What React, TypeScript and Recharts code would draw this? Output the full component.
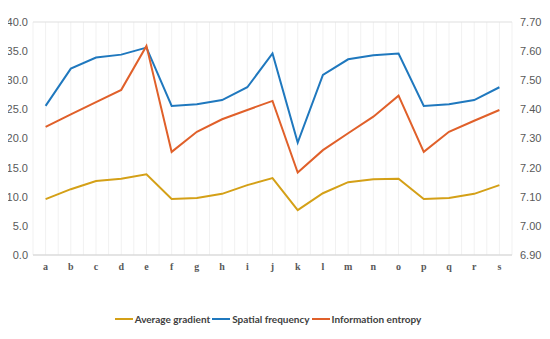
import React from 'react';
import { LineChart, Line, XAxis, YAxis, CartesianGrid, Legend } from 'recharts';

const categories = ['a','b','c','d','e','f','g','h','i','j','k','l','m','n','o','p','q','r','s'];
const averageGradient = [9.6, 11.3, 12.7, 13.1, 13.85, 9.6, 9.8, 10.5, 12.0, 13.2, 7.7, 10.6, 12.5, 13.0, 13.1, 9.6, 9.8, 10.5, 12.0];
const spatialFrequency = [25.6, 32.0, 33.9, 34.4, 35.6, 25.6, 25.9, 26.6, 28.8, 34.6, 19.3, 30.9, 33.6, 34.3, 34.6, 25.6, 25.9, 26.6, 28.8];
const informationEntropy = [7.34, 7.383, 7.425, 7.467, 7.618, 7.254, 7.323, 7.366, 7.398, 7.429, 7.183, 7.26, 7.318, 7.375, 7.447, 7.254, 7.323, 7.361, 7.398];
const seriesNames = ['Average gradient', 'Spatial frequency', 'Information entropy'];
const leftTicks = [0, 5, 10, 15, 20, 25, 30, 35, 40];
const rightTicks = [6.9, 7.0, 7.1, 7.2, 7.3, 7.4, 7.5, 7.6, 7.7];

const data = categories.map((c, i) => ({
  name: c,
  ag: averageGradient[i],
  sf: spatialFrequency[i],
  ie: informationEntropy[i],
}));

const LegendContent = (props: any) => {
  const payload = [...(props.payload || [])].sort(
    (a: any, b: any) => seriesNames.indexOf(a.value) - seriesNames.indexOf(b.value)
  );
  return (
    <div style={{ display: 'flex', justifyContent: 'center', alignItems: 'center', height: 16, paddingRight: 12 }}>
      {payload.map((p: any) => (
        <div key={p.value} style={{ display: 'flex', alignItems: 'center', marginRight: 2 }}>
          <svg width={18} height={10} style={{ marginRight: 2 }}>
            <line x1={0} y1={5} x2={18} y2={5} stroke={p.color} strokeWidth={2} />
          </svg>
          <span style={{ fontFamily: 'Lato, sans-serif', fontSize: 10, fontWeight: 700, color: '#404040' }}>
            {p.value}
          </span>
        </div>
      ))}
    </div>
  );
};

export default function App() {
  return (
    <LineChart width={534} height={323} data={data} margin={{ top: 14, right: 0, left: 0, bottom: 30 }}>
      <CartesianGrid
        horizontal={false}
        stroke="#f1f1f1"
        verticalCoordinatesGenerator={({ offset }: any) =>
          Array.from({ length: categories.length * 2 + 1 }, (_, i) => offset.left + (i * offset.width) / (categories.length * 2))
        }
      />
      <CartesianGrid vertical={false} stroke="#e0e0e0" strokeWidth={1.2} />
      <XAxis
        dataKey="name"
        scale="band"
        axisLine={{ stroke: '#d9d9d9' }}
        tickLine={false}
        height={30}
        tick={{ fontFamily: 'Liberation Serif, serif', fontSize: 10, fontWeight: 700, fill: '#595959' }}
      />
      <YAxis
        yAxisId="left"
        width={25}
        domain={[0, 40]}
        ticks={leftTicks}
        tickFormatter={(v: number) => v.toFixed(1)}
        axisLine={false}
        tickLine={false}
        tickSize={5}
        tickMargin={0}
        tick={{ fontFamily: 'Liberation Sans, Arial, sans-serif', fontSize: 11, fill: '#595959' }}
      />
      <YAxis
        yAxisId="right"
        orientation="right"
        width={30}
        domain={[6.9, 7.7]}
        ticks={rightTicks}
        tickFormatter={(v: number) => v.toFixed(2)}
        axisLine={false}
        tickLine={false}
        tickSize={5}
        tickMargin={3}
        tick={{ fontFamily: 'Liberation Sans, Arial, sans-serif', fontSize: 11, fill: '#595959' }}
      />
      <Legend
        verticalAlign="bottom"
        content={<LegendContent />}
        wrapperStyle={{ top: 303, bottom: 'auto' }}
      />
      <Line yAxisId="left" type="linear" dataKey="ag" name={seriesNames[0]} stroke="#D4A017" strokeWidth={2} dot={false} isAnimationActive={false} />
      <Line yAxisId="left" type="linear" dataKey="sf" name={seriesNames[1]} stroke="#1F78BE" strokeWidth={2} dot={false} isAnimationActive={false} />
      <Line yAxisId="right" type="linear" dataKey="ie" name={seriesNames[2]} stroke="#E0602A" strokeWidth={2} dot={false} isAnimationActive={false} />
    </LineChart>
  );
}
